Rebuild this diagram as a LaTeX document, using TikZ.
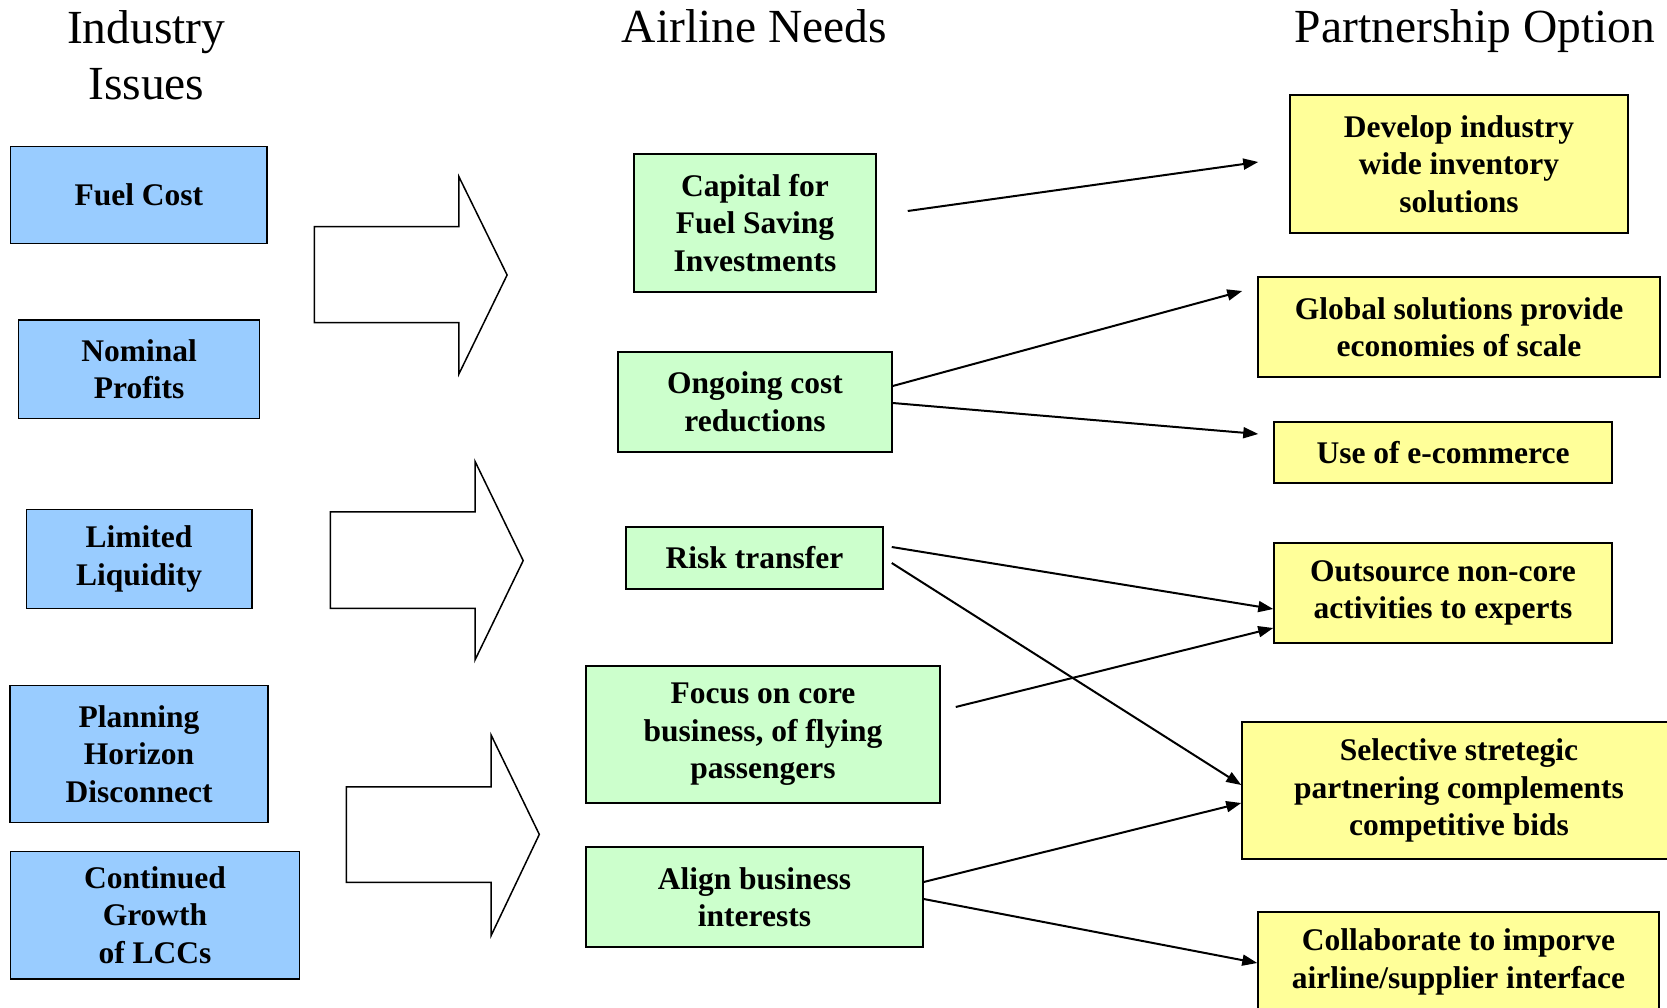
\documentclass[tikz,border=0pt]{standalone}
\usepackage{fontspec}
\setmainfont{Liberation Serif}
\usetikzlibrary{arrows.meta,calc}
\definecolor{issueblue}{HTML}{99CCFF}
\definecolor{needgreen}{HTML}{CCFFCC}
\definecolor{optyellow}{HTML}{FFFF99}
\begin{document}
\begin{tikzpicture}[x=1pt,y=-1pt,
  box/.style={draw=black, line width=1.5pt, inner sep=0pt, align=center,
              font=\bfseries\fontsize{31.5}{37.5}\selectfont},
  issue/.style={box, fill=issueblue},
  need/.style={box, fill=needgreen},
  option/.style={box, fill=optyellow},
  head/.style={anchor=base, inner sep=0pt, font=\fontsize{47.5}{57}\selectfont},
  conn/.style={line width=2pt, -{Triangle[length=15pt,width=11pt]}},
  bigarrow/.style={draw=black, line width=1.5pt, fill=white, line join=miter}
]
\useasboundingbox (0,0) rectangle (1667,1008);

% column headings
\node[head] (hind) at (146.3,43.5) {Industry};
\node[head] (hiss) at (146.3,100) {Issues};
\node[head] (hneeds) at (754.5,43) {Airline Needs};
\node[head] (hopt) at (1475,43) {Partnership Option};

% industry issues
\node[issue, minimum width=256.4pt, minimum height=96.6pt] (fuel) at (138.9,195) {Fuel Cost};
\node[issue, minimum width=241pt, minimum height=98.3pt] (nominal) at (139.1,369.2) {Nominal\\Profits};
\node[issue, minimum width=225.4pt, minimum height=99pt] (limited) at (139.1,558.75) {Limited\\Liquidity};
\node[issue, minimum width=257.9pt, minimum height=136.9pt] (planning) at (139,754) {Planning\\Horizon\\Disconnect};
\node[issue, minimum width=288.6pt, minimum height=127.5pt] (growth) at (155,915) {Continued\\Growth\\of LCCs};

% block arrows
\draw[bigarrow] (314.3,226.7) -- (458.9,226.7) -- (458.9,176.7) -- (507.1,275) -- (458.9,374) -- (458.9,322.7) -- (314.3,322.7) -- cycle;
\draw[bigarrow] (330.4,511.9) -- (475,511.9) -- (475,461.3) -- (523.2,560.6) -- (475,660) -- (475,608.3) -- (330.4,608.3) -- cycle;
\draw[bigarrow] (346.4,786.8) -- (491.1,786.8) -- (491.1,735) -- (539.3,834.4) -- (491.1,935.6) -- (491.1,882.4) -- (346.4,882.4) -- cycle;

% airline needs
\node[need, minimum width=242pt, minimum height=138pt] (capital) at (755,223) {Capital for\\Fuel Saving\\Investments};
\node[need, minimum width=274pt, minimum height=100pt] (ongoing) at (755,402) {Ongoing cost\\reductions};
\node[need, minimum width=257pt, minimum height=62pt] (risk) at (754.5,558) {Risk transfer};
\node[need, minimum width=354pt, minimum height=137pt] (focus) at (763,734.5) {Focus on core\\business, of flying\\passengers};
\node[need, minimum width=337pt, minimum height=100pt] (align) at (754.5,897) {Align business\\interests};

% partnership options
\node[option, minimum width=338pt, minimum height=138pt] (develop) at (1459,164) {Develop industry\\wide inventory\\solutions};
\node[option, minimum width=402pt, minimum height=100pt] (global) at (1459,327) {Global solutions provide\\economies of scale};
\node[option, minimum width=338pt, minimum height=61pt] (ecom) at (1443,452.5) {Use of e-commerce};
\node[option, minimum width=338pt, minimum height=100pt] (outsource) at (1443,593) {Outsource non-core\\activities to experts};
\node[option, minimum width=434pt, minimum height=137pt] (selective) at (1459,790.5) {Selective stretegic\\partnering complements\\competitive bids};
\node[option, minimum width=401pt, minimum height=100pt] (collab) at (1458.5,962) {Collaborate to imporve\\airline/supplier interface};

% connectors
\draw[conn] ($(capital.east)+(31,-12)$) -- ($(develop.west)+(-31,-2)$);
\draw[conn] ($(ongoing.east)+(0,-16)$) -- ($(global.west)+(-15,-36)$);
\draw[conn] ($(ongoing.east)+(0,1)$) -- ($(ecom.west)+(-15,-18.5)$);
\draw[conn] ($(risk.east)+(8,-11)$) -- ($(outsource.west)+(0,16)$);
\draw[conn] ($(risk.east)+(8,5)$) -- ($(selective.west)+(0,-5.5)$);
\draw[conn] ($(focus.east)+(15,-27.5)$) -- ($(outsource.west)+(0,35)$);
\draw[conn] ($(align.east)+(0,-15)$) -- ($(selective.west)+(0,12.5)$);
\draw[conn] ($(align.east)+(0,2)$) -- ($(collab.west)+(0,1)$);
\end{tikzpicture}
\end{document}
